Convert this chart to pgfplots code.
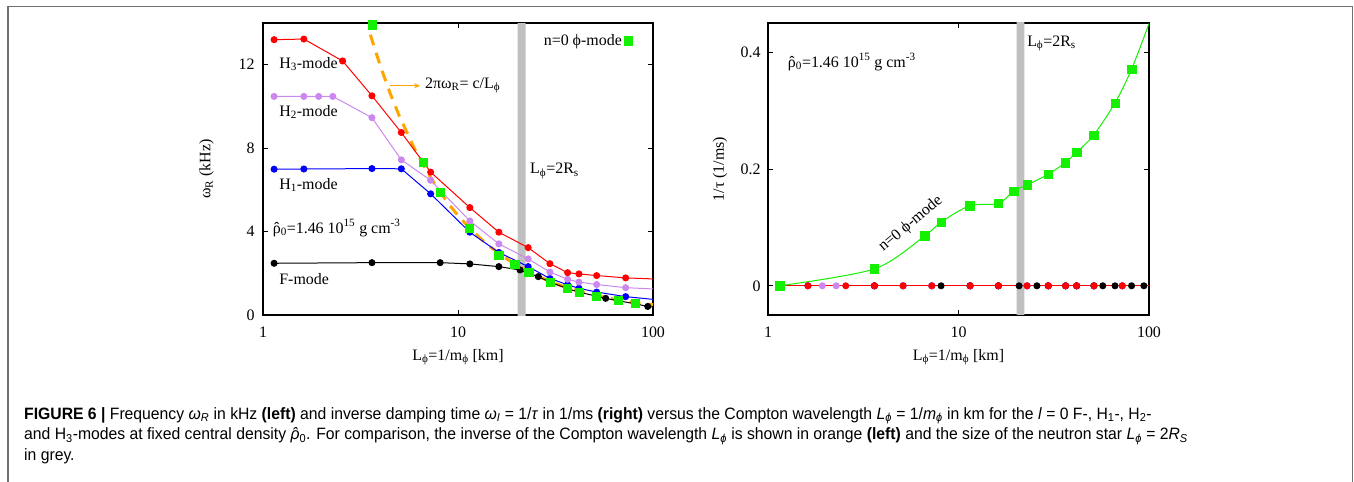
\documentclass[border=0pt]{standalone}
\usepackage{fontspec}
\setmainfont{Liberation Serif}
\newfontfamily\capfont[FakeStretch=0.957]{Liberation Sans}
\usepackage{pgfplots}
\pgfplotsset{compat=1.18}
\usetikzlibrary{arrows.meta}

\definecolor{hthree}{RGB}{255,0,0}
\definecolor{htwo}{RGB}{204,136,238}
\definecolor{hone}{RGB}{0,0,255}
\definecolor{grn}{RGB}{20,240,0}
\definecolor{bandc}{RGB}{192,192,192}
\definecolor{orng}{RGB}{255,165,0}
\definecolor{framec}{RGB}{112,112,112}

\newcommand{\fs}{\fontsize{16}{19}\selectfont}
\newcommand{\hatrho}{\leavevmode\hbox{\ooalign{ρ\cr\hidewidth ˆ\hidewidth\cr}}}

\begin{document}
\begin{tikzpicture}
\useasboundingbox (0bp,0bp) rectangle (1354bp,-482bp);
\draw[framec, line width=1.3bp] (8bp,-483bp) -- (8bp,-6.7bp) -- (1352.6bp,-6.7bp) -- (1352.6bp,-483bp);

% ---------------- left panel ----------------
\begin{axis}[scale only axis, width=390bp, height=292bp, at={(263bp,-315bp)}, anchor=south west,
  xmode=log, xmin=1, xmax=100,
  xtick={1,10,100}, xticklabels={1,10,100},
  xminorticks=false,
  tick align=inside, major tick length=5bp,
  axis line style={line width=1.1bp},
  every tick/.style={black, line width=0.9bp},
  tick label style={font=\fs},
  xticklabel shift=8bp, yticklabel shift=5bp,
  label style={font=\fs},
  xlabel={L\textsubscript{ϕ}=1/m\textsubscript{ϕ} [km]},
  x label style={at={(axis description cs:0.5,-0.145)},anchor=center},
  ymin=0, ymax=14, ytick={0,4,8,12}, yticklabels={0,4,8,12},
  ylabel={ω\textsubscript{R} (kHz)},
  y label style={at={(axis description cs:-0.145,0.5)},anchor=center},
  legend style={draw=none, fill=none, font=\fs, at={(axis description cs:0.955,0.975)}, anchor=north east, legend cell align=right},
  legend plot pos=right]
\addplot[fill=bandc, draw=none, forget plot] coordinates {(20.2,-1) (22.2,-1) (22.2,15) (20.2,15)} \closedcycle;
\addplot[orng, line width=3bp, dash pattern=on 11bp off 8bp, no marks, forget plot] coordinates {
(3.55,13.44) (4,11.93) (4.5,10.6) (5,9.54) (6,7.95) (7,6.81) (8,5.96) (9,5.30) (10,4.77) (12,3.98) (14,3.41) (17,2.81) (20,2.39) (25,1.91) (30,1.59) (35,1.36) (40,1.19) (50,0.95) (60,0.80) (70,0.68) (85,0.56) (100,0.50)};
% F-mode
\addplot[black, line width=1bp, mark=*, mark size=3bp, mark options={solid, fill=black}, forget plot] coordinates {
(1.14,2.48) (3.62,2.51) (8.1,2.51) (11.5,2.45) (16.2,2.32) (20.8,2.16) (25.8,1.84) (29.6,1.58) (36.5,1.26) (41.7,1.10) (51.4,0.90) (57.2,0.80) (66.3,0.68) (81,0.54) (94,0.41)};
\addplot[black, line width=1bp, no marks, forget plot] coordinates {(94,0.41) (100,0.38)};
% H1
\addplot[hone, line width=1bp, mark=*, mark size=3bp, mark options={solid, fill=hone}, forget plot] coordinates {
(1.14,6.99) (1.62,7.0) (3.62,7.02) (5.12,7.01) (7.24,5.81) (11.5,3.97) (16.2,3.0) (22.9,2.32) (29.6,1.75) (36.5,1.45) (41.7,1.28) (51.4,1.10) (72.4,0.88)};
\addplot[hone, line width=1bp, no marks, forget plot] coordinates {(72.4,0.88) (100,0.75)};
% H2
\addplot[htwo, line width=1bp, mark=*, mark size=3bp, mark options={solid, fill=htwo}, forget plot] coordinates {
(1.14,10.48) (1.62,10.48) (1.93,10.48) (2.28,10.48) (3.62,9.46) (5.12,7.44) (7.24,6.46) (11.5,4.51) (16.2,3.41) (22.9,2.69) (29.6,2.06) (36.5,1.71) (41.7,1.58) (51.4,1.46) (72.4,1.31)};
\addplot[htwo, line width=1bp, no marks, forget plot] coordinates {(72.4,1.31) (100,1.25)};
% H3
\addplot[hthree, line width=1bp, mark=*, mark size=3bp, mark options={solid, fill=hthree}, forget plot] coordinates {
(1.14,13.2) (1.62,13.23) (2.56,12.18) (3.62,10.51) (5.12,8.75) (7.24,6.85) (11.5,5.15) (16.2,3.97) (22.9,3.23) (29.6,2.46) (36.5,2.03) (41.7,1.97) (51.4,1.89) (72.4,1.78)};
\addplot[hthree, line width=1bp, no marks, forget plot] coordinates {(72.4,1.78) (100,1.73)};
% phi mode
\addplot[only marks, mark=square*, mark size=4.2bp, color=grn] coordinates {
(3.62,13.92) (6.65,7.32) (8.1,5.89) (11.45,4.16) (16.2,2.88) (19.5,2.43) (23.0,2.05) (29.6,1.57) (36.4,1.28) (41.7,1.09) (51.2,0.91) (66.3,0.72) (81.0,0.56)};
\addlegendentry{n=0 ϕ-mode}
\draw[orng, line width=1bp, -{Stealth[length=6bp,width=5bp]}] (axis cs:4.48,10.99) -- (axis cs:6.39,10.99);
\node[font=\fs, anchor=west, inner sep=0] at (axis cs:6.77,11.0) {2πω\textsubscript{R}= c/L\textsubscript{ϕ}};
\node[font=\fs, anchor=west, inner sep=0] at (axis cs:1.21,12.03) {H\textsubscript{3}-mode};
\node[font=\fs, anchor=west, inner sep=0] at (axis cs:1.21,9.73) {H\textsubscript{2}-mode};
\node[font=\fs, anchor=west, inner sep=0] at (axis cs:1.21,6.23) {H\textsubscript{1}-mode};
\node[font=\fs, anchor=west, inner sep=0] at (axis cs:1.12,4.17) {\hatrho\textsubscript{0}=1.46 10\textsuperscript{15} g cm\textsuperscript{-3}};
\node[font=\fs, anchor=west, inner sep=0] at (axis cs:1.21,1.73) {F-mode};
\node[font=\fs, anchor=west, inner sep=0] at (axis cs:23.4,6.9) {L\textsubscript{ϕ}=2R\textsubscript{s}};
\end{axis}

% ---------------- right panel ----------------
\begin{axis}[scale only axis, width=381bp, height=292bp, at={(768bp,-315bp)}, anchor=south west,
  xmode=log, xmin=1, xmax=100,
  xtick={1,10,100}, xticklabels={1,10,100},
  xminorticks=false,
  tick align=inside, major tick length=5bp,
  axis line style={line width=1.1bp},
  every tick/.style={black, line width=0.9bp},
  tick label style={font=\fs},
  xticklabel shift=8bp, yticklabel shift=4bp,
  label style={font=\fs},
  xlabel={L\textsubscript{ϕ}=1/m\textsubscript{ϕ} [km]},
  x label style={at={(axis description cs:0.5,-0.145)},anchor=center},
  ymin=-0.05, ymax=0.45, ytick={0,0.2,0.4}, yticklabels={0,0.2,0.4},
  ylabel={1/τ (1/ms)},
  y label style={at={(axis description cs:-0.126,0.5)},anchor=center}]
\addplot[fill=bandc, draw=none, forget plot] coordinates {(20.2,-1) (22.2,-1) (22.2,1) (20.2,1)} \closedcycle;
\addplot[hone, line width=1bp, mark=*, mark size=3bp, mark options={solid, fill=hone}, forget plot] coordinates {
(1.14,0) (1.62,0) (3.62,0) (5.12,0) (7.24,0) (11.5,0) (16.2,0) (22.9,0) (29.6,0) (36.5,0) (41.7,0) (51.4,0) (72.4,0)};
\addplot[htwo, line width=1bp, mark=*, mark size=3bp, mark options={solid, fill=htwo}, forget plot] coordinates {
(1.14,0) (1.93,0) (2.28,0) (3.62,0) (5.12,0) (7.24,0) (11.5,0) (16.2,0) (22.9,0) (29.6,0) (36.5,0) (41.7,0) (51.4,0) (72.4,0)};
\addplot[black, line width=1bp, mark=*, mark size=3bp, mark options={solid, fill=black}, forget plot] coordinates {
(1.14,0) (3.62,0) (8.1,0) (11.5,0) (16.2,0) (20.8,0) (25.8,0) (29.6,0) (36.5,0) (41.7,0) (51.4,0) (57.2,0) (66.3,0) (81,0) (94,0)};
\addplot[hthree, line width=1bp, mark=*, mark size=3bp, mark options={solid, fill=hthree}, forget plot] coordinates {
(1.14,0) (1.62,0) (2.56,0) (3.62,0) (5.12,0) (7.24,0) (11.5,0) (16.2,0) (22.9,0) (29.6,0) (36.5,0) (41.7,0) (51.4,0) (72.4,0)};
\addplot[hthree, line width=1bp, no marks, forget plot] coordinates {(72.4,0) (100,0)};
\addplot[grn, line width=1bp, smooth, tension=0.5, no marks, forget plot] coordinates {
(1.15,0) (3.62,0.029) (6.65,0.0855) (8.1,0.109) (11.45,0.137) (16.2,0.141) (19.5,0.162) (23.0,0.173) (29.6,0.191) (36.4,0.211) (41.7,0.2285) (51.2,0.258) (66.3,0.313) (81.0,0.371) (100,0.449)};
\addplot[only marks, mark=square*, mark size=4.2bp, color=grn, forget plot] coordinates {
(1.15,0) (3.62,0.029) (6.65,0.0855) (8.1,0.109) (11.45,0.137) (16.2,0.141) (19.5,0.162) (23.0,0.173) (29.6,0.191) (36.4,0.211) (41.7,0.2285) (51.2,0.258) (66.3,0.313) (81.0,0.371)};
\node[font=\fs, anchor=west, inner sep=0] at (axis cs:1.27,0.383) {\hatrho\textsubscript{0}=1.46 10\textsuperscript{15} g cm\textsuperscript{-3}};
\node[font=\fs, anchor=west, inner sep=0] at (axis cs:22.9,0.415) {L\textsubscript{ϕ}=2R\textsubscript{s}};
\node[font=\fs, rotate=40, inner sep=0] at (axis cs:5.61,0.106) {n=0 ϕ-mode};
\end{axis}

% ---------------- caption ----------------
\node[anchor=base west, inner sep=0] at (24bp,-419bp) {\capfont\fontsize{16.5}{20}\selectfont\textbf{FIGURE 6 |} Frequency \textit{ω}\textsubscript{\textit{R}} in kHz \textbf{(left)} and inverse damping time \textit{ω}\textsubscript{\textit{I}} = 1/\textit{τ} in 1/ms \textbf{(right)} versus the Compton wavelength \textit{L}\textsubscript{\textit{ϕ}} = 1/\textit{m}\textsubscript{\textit{ϕ}} in km for the \textit{l} = 0 F-, H\textsubscript{1}-, H\textsubscript{2}-};
\node[anchor=base west, inner sep=0] at (24bp,-439.5bp) {\capfont\fontsize{16.5}{20}\selectfont and H\textsubscript{3}-modes at fixed central density \textit{\hatrho}\textsubscript{0}. For comparison, the inverse of the Compton wavelength \textit{L}\textsubscript{\textit{ϕ}} is shown in orange \textbf{(left)} and the size of the neutron star \textit{L}\textsubscript{\textit{ϕ}} = 2\textit{R}\textsubscript{\textit{S}}};
\node[anchor=base west, inner sep=0] at (24bp,-460bp) {\capfont\fontsize{16.5}{20}\selectfont in grey.};
\end{tikzpicture}
\end{document}
